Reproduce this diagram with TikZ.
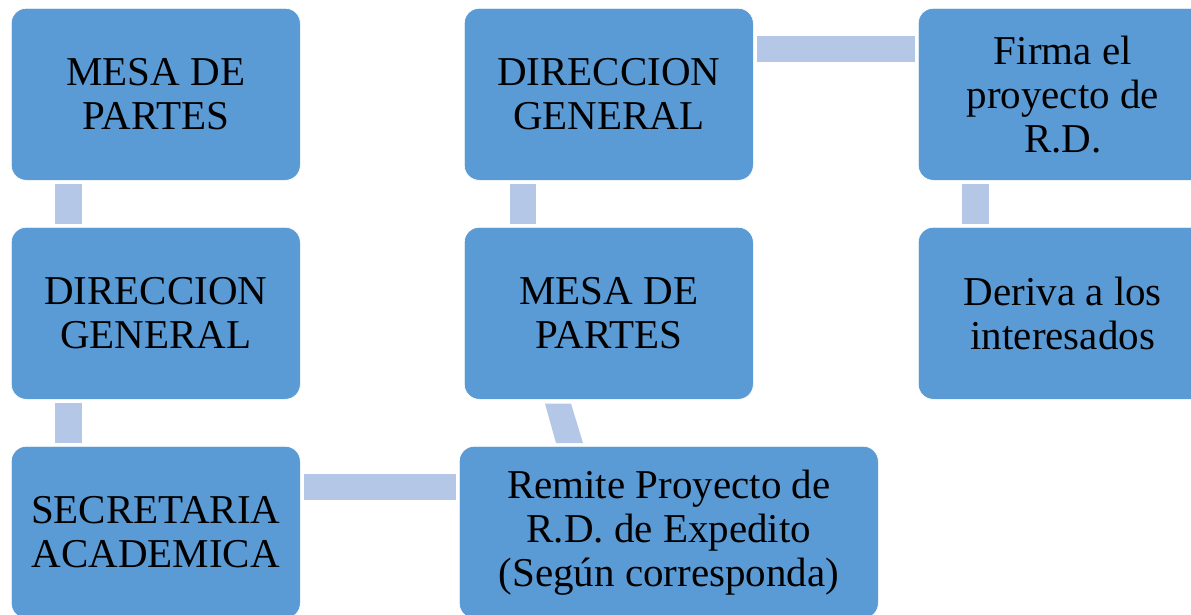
\documentclass[tikz,border=0pt]{standalone}
\usepackage{fontspec}
\setmainfont{Liberation Serif}
\definecolor{boxfill}{HTML}{5B9BD5}
\definecolor{barfill}{HTML}{B4C7E7}
\begin{document}
\begin{tikzpicture}[x=1pt,y=-1pt,
  box/.style={fill=boxfill, draw=white, line width=0.6pt, rounded corners=15pt, anchor=north west,
    inner sep=0pt, align=center, text=black,
    font=\fontsize{41}{44}\selectfont},
  bar/.style={draw=barfill, line width=26.5pt, shorten >=3pt, shorten <=3pt},
  barshape/.style={fill=barfill, draw=none}]
\useasboundingbox (0,0) rectangle (1191,614);
\begin{scope}
\clip (0,0) rectangle (1191,614);
\node[box, minimum width=289pt, minimum height=172pt] (m1) at (11,8) {MESA DE\\PARTES};
\node[box, minimum width=289pt, minimum height=172pt] (d1) at (11,227) {DIRECCION\\GENERAL};
\node[box, minimum width=289pt, minimum height=172pt] (s) at (11,446) {SECRETARIA\\ACADEMICA};
\node[box, minimum width=419pt, minimum height=172pt] (r) at (459,446) {Remite Proyecto de\\R.D. de Expedito\\(Según corresponda)};
\node[box, minimum width=289pt, minimum height=172pt] (m2) at (464,227) {MESA DE\\PARTES};
\node[box, minimum width=289pt, minimum height=172pt] (d2) at (464,8) {DIRECCION\\GENERAL};
\node[box, minimum width=289pt, minimum height=172pt] (f) at (918,8) {Firma el\\proyecto de\\R.D.};
\node[box, minimum width=289pt, minimum height=172pt] (dv) at (918,227) {Deriva a los\\interesados};
\draw[bar] ([xshift=57.5pt]m1.south west) -- ([xshift=57.5pt]d1.north west);
\draw[bar] ([xshift=57.5pt]d1.south west) -- ([xshift=57.5pt]s.north west);
\draw[bar] ([yshift=-41pt]s.north east) -- ([yshift=-41pt]r.north west);
\fill[barshape] ([xshift=81pt,yshift=-4pt]m2.south west) -- ([xshift=107pt,yshift=-4pt]m2.south west)
  -- ([xshift=124pt,yshift=3pt]r.north west) -- ([xshift=97pt,yshift=3pt]r.north west) -- cycle;
\draw[bar] ([xshift=59pt]m2.north west) -- ([xshift=59pt]d2.south west);
\draw[bar] ([yshift=-41pt]d2.north east) -- ([yshift=-41pt]f.north west);
\draw[bar] ([xshift=57.5pt]f.south west) -- ([xshift=57.5pt]dv.north west);
\end{scope}
\end{tikzpicture}
\end{document}
